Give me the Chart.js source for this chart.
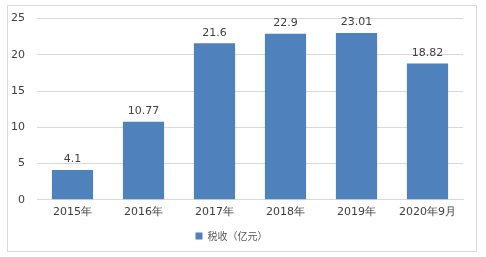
<!DOCTYPE html>
<html>
<head>
<meta charset="utf-8">
<script src="https://cdn.jsdelivr.net/npm/chart.js@4.4.0/dist/chart.umd.min.js"></script>
<style>
  html, body { margin: 0; padding: 0; background: #fff; }
  #frame { position: absolute; left: 7px; top: 5px; width: 468px; height: 245px; border: 1px solid #d9d9d9; }
  #wrap { position: absolute; left: 0; top: 0; width: 486px; height: 257px; }
</style>
</head>
<body>
<div id="frame"></div>
<div id="wrap"><canvas id="chart" width="486" height="257"></canvas></div>
<script>
// chart data
const categories = ["2015年", "2016年", "2017年", "2018年", "2019年", "2020年9月"];
const taxValues = [4.1, 10.77, 21.6, 22.9, 23.01, 18.82];
const seriesName = "税收（亿元）";
const yTicks = [0, 5, 10, 15, 20, 25];

// draw value labels above bars
const barLabels = {
  id: "barLabels",
  afterDatasetsDraw(chart) {
    const ctx = chart.ctx;
    const meta = chart.getDatasetMeta(0);
    ctx.save();
    ctx.font = "11px 'DejaVu Sans', sans-serif";
    ctx.fillStyle = "#404040";
    ctx.textAlign = "center";
    ctx.textBaseline = "bottom";
    meta.data.forEach((bar, i) => {
      ctx.fillText(String(taxValues[i]), bar.x, bar.y - 5);
    });
    ctx.restore();
  }
};

const ctx = document.getElementById("chart").getContext("2d");
new Chart(ctx, {
  type: "bar",
  data: {
    labels: categories,
    datasets: [{
      label: seriesName,
      data: taxValues,
      backgroundColor: "#4f81bd",
      barPercentage: 0.58,
      categoryPercentage: 1.0
    }]
  },
  options: {
    responsive: false,
    animation: false,
    layout: { padding: { left: 0, right: 23, top: 18, bottom: 6 } },
    plugins: {
      legend: {
        position: "bottom",
        labels: {
          boxWidth: 7,
          boxHeight: 7,
          padding: 6,
          color: "#595959",
          font: { size: 10, family: "'Noto Sans CJK SC', sans-serif" }
        }
      },
      tooltip: { enabled: false }
    },
    scales: {
      x: {
        grid: { display: false, drawTicks: false },
        border: { display: true, color: "#d9d9d9" },
        ticks: {
          color: "#404040",
          padding: 6,
          font: { size: 11, family: "'DejaVu Sans', sans-serif" }
        }
      },
      y: {
        min: 0,
        max: 25,
        afterFit(scale) { scale.width = 37; },
        afterBuildTicks(scale) { scale.ticks = yTicks.map(v => ({ value: v })); },
        grid: { color: "#d9d9d9", drawTicks: false },
        border: { display: false },
        ticks: {
          color: "#404040",
          padding: 12,
          font: { size: 11, family: "'DejaVu Sans', sans-serif" }
        }
      }
    }
  },
  plugins: [barLabels]
});
</script>
</body>
</html>
